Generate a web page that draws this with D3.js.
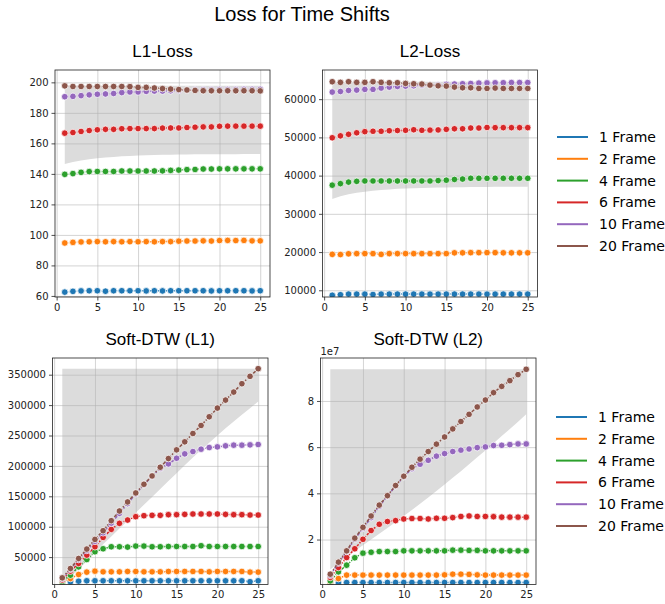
<!DOCTYPE html>
<html>
<head>
<meta charset="utf-8">
<script src="https://cdn.jsdelivr.net/npm/d3@7"></script>
<style>
  body { margin: 0; background: #fff; }
  svg { display: block; }
  text { font-family: "DejaVu Sans", sans-serif; }
</style>
</head>
<body>
<div id="chart"></div>
<script>
// shift amount on the x axis
var shifts = [1, 2, 3, 4, 5, 6, 7, 8, 9, 10, 11, 12, 13, 14, 15, 16, 17, 18, 19, 20, 21, 22, 23, 24, 25];
var frameNames = ["1 Frame", "2 Frame", "4 Frame", "6 Frame", "10 Frame", "20 Frame"];
var frameColors = ["#1f77b4", "#ff7f0e", "#2ca02c", "#d62728", "#9467bd", "#8c564b"];

// L1 loss
var l1Blue   = [62.5, 63.0, 63.3, 63.4, 63.4, 63.1, 63.4, 63.4, 63.4, 63.4, 63.3, 63.4, 63.3, 63.4, 63.4, 63.4, 63.4, 63.4, 63.3, 63.4, 63.4, 63.4, 63.4, 63.3, 63.4];
var l1Orange = [94.7, 95.1, 95.4, 95.5, 95.6, 95.5, 95.6, 95.5, 95.6, 95.5, 95.6, 95.5, 95.6, 95.6, 95.9, 96.0, 96.0, 96.1, 96.0, 96.3, 96.4, 96.3, 96.4, 96.1, 96.1];
var l1Green  = [139.7, 140.2, 141.0, 141.5, 141.6, 141.6, 141.6, 141.9, 141.9, 141.9, 141.9, 141.9, 142.0, 142.3, 142.5, 142.8, 142.9, 143.2, 143.2, 143.3, 143.3, 143.3, 143.3, 143.3, 143.3];
var l1Red    = [166.7, 167.1, 167.8, 168.4, 168.9, 169.2, 169.2, 169.6, 169.7, 169.7, 169.7, 169.7, 170.0, 170.1, 170.1, 170.4, 170.6, 170.8, 170.8, 171.2, 171.3, 171.3, 171.3, 171.3, 171.3];
var l1Purple = [190.6, 190.8, 191.3, 191.8, 192.2, 192.4, 192.7, 193.3, 193.7, 193.7, 194.1, 194.3, 194.3, 194.5, 194.7, 195.0, 195.1, 195.2, 195.2, 195.3, 195.3, 195.3, 195.4, 195.4, 195.4];
var l1Brown  = [197.7, 197.3, 197.3, 197.3, 197.3, 197.3, 197.3, 197.3, 197.2, 196.7, 196.7, 196.3, 195.9, 195.6, 195.3, 195.0, 194.7, 194.5, 194.5, 194.5, 194.5, 194.5, 194.5, 194.5, 194.4];
var l1BandLow  = [146.5, 147.8, 148.8, 149.6, 150.2, 150.7, 151.1, 151.5, 151.8, 152.1, 152.3, 152.4, 152.5, 152.6, 152.7, 152.7, 152.8, 152.8, 152.8, 152.9, 152.9, 152.9, 153.0, 153.0, 153.0];
var l1BandHigh = [197.8, 197.8, 197.8, 197.8, 197.8, 197.8, 197.8, 197.8, 197.8, 197.8, 197.8, 197.8, 197.8, 197.8, 197.8, 197.8, 197.8, 197.8, 197.8, 197.8, 197.8, 197.8, 197.8, 197.8, 197.8];

// L2 loss
var l2Blue   = [8700, 8850, 9000, 9000, 9000, 8900, 9000, 9000, 9000, 9000, 9000, 9000, 9000, 9000, 9000, 9000, 9000, 9000, 9000, 9000, 9000, 9000, 9000, 9000, 9000];
var l2Orange = [19400, 19350, 19550, 19600, 19600, 19600, 19400, 19600, 19600, 19600, 19600, 19600, 19600, 19600, 19600, 19800, 19800, 19850, 19850, 19850, 19850, 19800, 19800, 19800, 19800];
var l2Green  = [37500, 37900, 38300, 38500, 38600, 38600, 38600, 38600, 38600, 38600, 38600, 38600, 38600, 38700, 38800, 39000, 39100, 39300, 39300, 39300, 39300, 39300, 39300, 39300, 39300];
var l2Red    = [49900, 50400, 50800, 51200, 51500, 51600, 51600, 51750, 51800, 51850, 52000, 51850, 51900, 51950, 52100, 52250, 52250, 52450, 52450, 52600, 52550, 52550, 52550, 52550, 52550];
var l2Purple = [61850, 62000, 62280, 62370, 62550, 62550, 62900, 63150, 63330, 63420, 63500, 63680, 63700, 63700, 63860, 63950, 64030, 64100, 64200, 64250, 64280, 64300, 64350, 64350, 64350];
var l2Brown  = [64560, 64390, 64560, 64390, 64390, 64560, 64390, 64300, 64300, 64120, 64030, 63950, 63680, 63500, 63420, 63160, 62980, 62980, 62800, 62800, 62900, 62800, 62800, 62800, 62800];
var l2BandLow  = [33860, 34600, 35100, 35500, 35800, 36050, 36250, 36400, 36550, 36650, 36720, 36790, 36840, 36880, 36920, 36950, 36980, 37000, 37020, 37040, 37060, 37080, 37090, 37100, 37110];
var l2BandHigh = [64560, 64560, 64560, 64560, 64560, 64560, 64560, 64560, 64560, 64560, 64560, 64560, 64560, 64560, 64560, 64560, 64560, 64560, 64560, 64560, 64560, 64560, 64560, 64560, 64560];

// Soft-DTW (L1)
var sd1Blue   = [6500, 9300, 10400, 11000, 11000, 11000, 11000, 11000, 11000, 11000, 11000, 11000, 11000, 11000, 11000, 11000, 11000, 11000, 11000, 11000, 11000, 11000, 11000, 9500, 11000];
var sd1Orange = [7700, 14800, 21400, 25300, 26900, 25800, 25800, 25800, 26400, 26400, 25800, 25800, 25800, 26400, 26400, 26400, 26400, 26400, 25800, 26400, 26400, 26400, 26400, 25300, 25300];
var sd1Green  = [10000, 20300, 34000, 46000, 58800, 63700, 67000, 67000, 66500, 68100, 68100, 67000, 67000, 67500, 67500, 67500, 67500, 68700, 67500, 67500, 67500, 67500, 67500, 67500, 67500];
var sd1Red    = [12500, 26900, 39600, 53300, 67000, 82400, 95600, 105500, 111000, 116500, 118100, 118700, 118700, 119800, 119800, 120300, 120900, 120900, 120900, 120900, 120300, 119800, 119800, 119200, 119200];
var sd1Purple = [15000, 30000, 46000, 61000, 76000, 90000, 106000, 122000, 138000, 154000, 169000, 183000, 196000, 203300, 212600, 219800, 223600, 227500, 230200, 231300, 233000, 234100, 234100, 234600, 235200];
var sd1Brown  = [15900, 31300, 47800, 63200, 79100, 93400, 109900, 125800, 140700, 155500, 169800, 183500, 197800, 212100, 226400, 239600, 253300, 266500, 280800, 295100, 308200, 321400, 335200, 347300, 359900];
var sd1BandLow  = [5000, 17000, 30000, 43000, 57000, 71000, 84000, 97000, 110000, 123000, 136000, 149000, 162000, 175000, 188000, 201000, 214000, 226000, 238000, 250000, 262000, 273000, 284000, 295000, 306000];
var sd1BandHigh = [359900, 359900, 359900, 359900, 359900, 359900, 359900, 359900, 359900, 359900, 359900, 359900, 359900, 359900, 359900, 359900, 359900, 359900, 359900, 359900, 359900, 359900, 359900, 359900, 359900];

// Soft-DTW (L2), values in units of 1e7
var sd2Blue   = [0.07, 0.12, 0.14, 0.14, 0.14, 0.14, 0.14, 0.14, 0.14, 0.14, 0.14, 0.14, 0.14, 0.14, 0.14, 0.14, 0.14, 0.14, 0.14, 0.14, 0.14, 0.14, 0.14, 0.14, 0.14];
var sd2Orange = [0.13, 0.31, 0.46, 0.46, 0.46, 0.46, 0.46, 0.46, 0.46, 0.46, 0.46, 0.46, 0.46, 0.46, 0.47, 0.50, 0.50, 0.49, 0.47, 0.46, 0.46, 0.46, 0.46, 0.46, 0.46];
var sd2Green  = [0.21, 0.60, 0.89, 1.21, 1.41, 1.45, 1.48, 1.48, 1.48, 1.51, 1.51, 1.51, 1.51, 1.51, 1.51, 1.54, 1.54, 1.53, 1.53, 1.51, 1.51, 1.51, 1.51, 1.51, 1.51];
var sd2Red    = [0.36, 0.79, 1.22, 1.60, 2.01, 2.39, 2.66, 2.78, 2.82, 2.89, 2.91, 2.91, 2.89, 2.92, 2.92, 2.95, 3.00, 3.02, 3.00, 3.00, 2.99, 2.97, 2.97, 2.97, 2.97];
var sd2Purple = [0.45, 0.98, 1.48, 2.02, 2.48, 2.95, 3.44, 3.88, 4.32, 4.72, 5.07, 5.26, 5.43, 5.61, 5.72, 5.81, 5.87, 5.92, 5.98, 6.01, 6.07, 6.08, 6.11, 6.14, 6.14];
var sd2Brown  = [0.50, 1.02, 1.51, 2.06, 2.53, 3.02, 3.49, 3.90, 4.34, 4.74, 5.13, 5.48, 5.81, 6.13, 6.44, 6.79, 7.11, 7.42, 7.74, 8.04, 8.36, 8.63, 8.88, 9.14, 9.37];
var sd2BandLow  = [0.70, 1.00, 1.25, 1.50, 1.75, 2.00, 2.25, 2.50, 2.76, 3.02, 3.28, 3.55, 3.82, 4.10, 4.38, 4.67, 4.96, 5.26, 5.56, 5.86, 6.17, 6.48, 6.79, 7.10, 7.42];
var sd2BandHigh = [9.37, 9.37, 9.37, 9.37, 9.37, 9.37, 9.37, 9.37, 9.37, 9.37, 9.37, 9.37, 9.37, 9.37, 9.37, 9.37, 9.37, 9.37, 9.37, 9.37, 9.37, 9.37, 9.37, 9.37, 9.37];

var xTicks = [0, 5, 10, 15, 20, 25];

var panels = [
  { title: "L1-Loss", box: {left: 55, top: 70, width: 215, height: 227},
    yDomain: [59.3, 208.1], yTicks: [60, 80, 100, 120, 140, 160, 180, 200],
    series: [l1Blue, l1Orange, l1Green, l1Red, l1Purple, l1Brown], low: l1BandLow, high: l1BandHigh },
  { title: "L2-Loss", box: {left: 322.5, top: 70, width: 215, height: 227},
    yDomain: [8245, 67630], yTicks: [10000, 20000, 30000, 40000, 50000, 60000],
    series: [l2Blue, l2Orange, l2Green, l2Red, l2Purple, l2Brown], low: l2BandLow, high: l2BandHigh },
  { title: "Soft-DTW (L1)", box: {left: 52.5, top: 358, width: 215.5, height: 226.5},
    yDomain: [4945, 377470], yTicks: [50000, 100000, 150000, 200000, 250000, 300000, 350000],
    series: [sd1Blue, sd1Orange, sd1Green, sd1Red, sd1Purple, sd1Brown], low: sd1BandLow, high: sd1BandHigh },
  { title: "Soft-DTW (L2)", box: {left: 320.5, top: 358, width: 215.5, height: 226.5},
    yDomain: [0.053, 9.86], yTicks: [2, 4, 6, 8], offsetText: "1e7",
    series: [sd2Blue, sd2Orange, sd2Green, sd2Red, sd2Purple, sd2Brown], low: sd2BandLow, high: sd2BandHigh }
];

var legends = [
  {lineX: 557, textX: 599, top: 137},
  {lineX: 556, textX: 598, top: 417}
];

var svg = d3.select("#chart").append("svg")
    .attr("width", 665)
    .attr("height", 604);

svg.append("rect").attr("width", 665).attr("height", 604).attr("fill", "#fff");

svg.append("text")
    .attr("x", 302)
    .attr("y", 20.5)
    .attr("text-anchor", "middle")
    .style("font-family", "'Liberation Sans', Arial, sans-serif")
    .style("font-size", "20px")
    .attr("fill", "#000")
    .text("Loss for Time Shifts");

panels.forEach(function(p) {
  var b = p.box;
  var g = svg.append("g").attr("transform", "translate(" + b.left + "," + b.top + ")");

  var x = d3.scaleLinear().domain([-0.2, 26.2]).range([0, b.width]);
  var y = d3.scaleLinear().domain(p.yDomain).range([b.height, 0]);

  var clipId = "clip-" + Math.round(b.left) + "-" + Math.round(b.top);
  g.append("defs").append("clipPath").attr("id", clipId)
    .append("rect").attr("width", b.width).attr("height", b.height);

  var plot = g.append("g").attr("clip-path", "url(#" + clipId + ")");

  // shaded band
  var area = d3.area()
      .x((d, i) => x(shifts[i]))
      .y0((d, i) => y(p.low[i]))
      .y1((d, i) => y(p.high[i]));
  plot.append("path")
      .datum(p.low)
      .attr("d", area)
      .attr("fill", "#dcdcdc");

  // grid
  plot.append("g")
      .attr("transform", "translate(0," + b.height + ")")
      .call(d3.axisBottom(x).tickValues(xTicks).tickSize(-b.height).tickFormat(""))
      .call(s => s.select(".domain").remove())
      .selectAll("line").attr("stroke", "#b0b0b0").attr("stroke-opacity", 0.55).attr("stroke-width", 1);
  plot.append("g")
      .call(d3.axisLeft(y).tickValues(p.yTicks).tickSize(-b.width).tickFormat(""))
      .call(s => s.select(".domain").remove())
      .selectAll("line").attr("stroke", "#b0b0b0").attr("stroke-opacity", 0.55).attr("stroke-width", 1);

  // lines + markers
  var line = d3.line()
      .x((d, i) => x(shifts[i]))
      .y(d => y(d));
  p.series.forEach(function(values, k) {
    plot.append("path")
        .datum(values)
        .attr("d", line)
        .attr("fill", "none")
        .attr("stroke", frameColors[k])
        .attr("stroke-width", 1.5)
        .attr("stroke-dasharray", "3.5,1.5,1.5,1.5");
    plot.append("g").selectAll("circle")
        .data(values)
        .enter().append("circle")
        .attr("cx", (d, i) => x(shifts[i]))
        .attr("cy", d => y(d))
        .attr("r", 3.3)
        .attr("fill", frameColors[k])
        .attr("stroke", "#fff")
        .attr("stroke-width", 0.75);
  });

  // axes
  var xAxis = g.append("g")
      .attr("transform", "translate(0," + b.height + ")")
      .call(d3.axisBottom(x).tickValues(xTicks).tickFormat(d3.format("d"))
        .tickSize(3.5).tickPadding(3).tickSizeOuter(0));
  var yAxis = g.append("g")
      .call(d3.axisLeft(y).tickValues(p.yTicks).tickFormat(d3.format("d"))
        .tickSize(3.5).tickPadding(3).tickSizeOuter(0));
  [xAxis, yAxis].forEach(function(a) {
    a.select(".domain").remove();
    a.selectAll("line").attr("stroke", "#222").attr("stroke-width", 0.8);
    a.selectAll("text")
        .style("font-family", "'DejaVu Sans', sans-serif")
        .style("font-size", "10px")
        .attr("fill", "#222");
  });

  g.append("rect")
      .attr("width", b.width)
      .attr("height", b.height)
      .attr("fill", "none")
      .attr("stroke", "#222")
      .attr("stroke-width", 0.8);

  g.append("text")
      .attr("x", b.width / 2)
      .attr("y", -13.5)
      .attr("text-anchor", "middle")
      .style("font-family", "'Liberation Sans', Arial, sans-serif")
      .style("font-size", "17px")
      .attr("fill", "#000")
      .text(p.title);

  if (p.offsetText) {
    g.append("text")
        .attr("x", 0)
        .attr("y", -3)
        .style("font-size", "10px")
        .attr("fill", "#222")
        .text(p.offsetText);
  }
});

// legends
legends.forEach(function(L) {
  var lg = svg.append("g");
  frameNames.forEach(function(name, k) {
    var yy = L.top + k * 21.8;
    lg.append("line")
        .attr("x1", L.lineX).attr("x2", L.lineX + 31)
        .attr("y1", yy).attr("y2", yy)
        .attr("stroke", frameColors[k])
        .attr("stroke-width", 2);
    lg.append("text")
        .attr("x", L.textX)
        .attr("y", yy + 5)
        .style("font-size", "14px")
        .attr("fill", "#000")
        .text(name);
  });
});
</script>
</body>
</html>
